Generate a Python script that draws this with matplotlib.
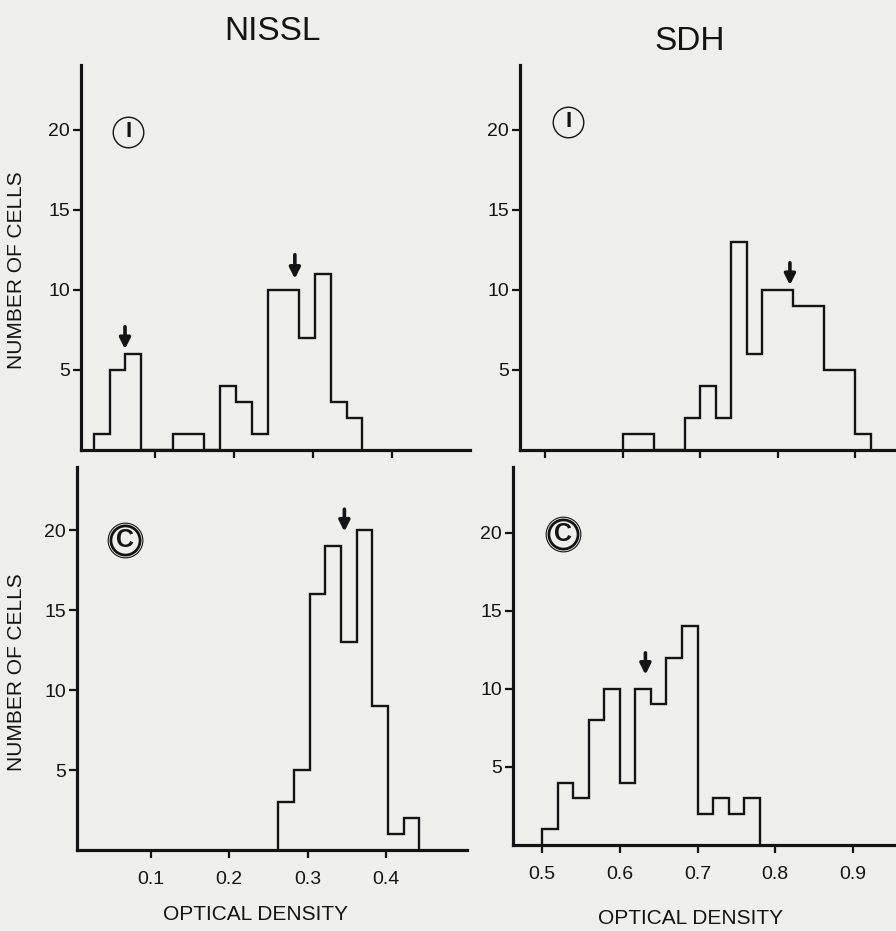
import numpy as np
import matplotlib
matplotlib.use("Agg")
import matplotlib.pyplot as plt

plt.rcParams['font.family'] = ['Liberation Sans', 'DejaVu Sans']

# ---------------- data ----------------
bin_width = 0.02

nissl_I_start = 0.0225
nissl_I_counts = [1, 5, 6, 0, 0, 1, 1, 0, 4, 3, 1, 10, 10, 7, 11, 3, 2]
nissl_I_arrows = [(0.062, 6.3, 7.7), (0.277, 10.7, 12.2)]

sdh_I_start = 0.60
sdh_I_counts = [1, 1, 0, 0, 2, 4, 2, 13, 6, 10, 10, 9, 9, 5, 5, 1]
sdh_I_arrows = [(0.816, 10.3, 11.7)]

nissl_C_start = 0.2625
nissl_C_counts = [3, 5, 16, 19, 13, 20, 9, 1, 2]
nissl_C_arrows = [(0.347, 19.9, 21.3)]

sdh_C_start = 0.50
sdh_C_counts = [1, 4, 3, 8, 10, 4, 10, 9, 12, 14, 2, 3, 2, 3]
sdh_C_arrows = [(0.633, 10.9, 12.3)]

nissl_ticks = [0.1, 0.2, 0.3, 0.4]
nissl_ticklabels = ['0.1', '0.2', '0.3', '0.4']
sdh_ticks = [0.5, 0.6, 0.7, 0.8, 0.9]
sdh_ticklabels = ['0.5', '0.6', '0.7', '0.8', '0.9']
y_ticks = [5, 10, 15, 20]
y_ticklabels = ['5', '10', '15', '20']

titles = ['NISSL', 'SDH']
ylabel = 'NUMBER OF CELLS'
xlabel = 'OPTICAL DENSITY'
group_I = 'I'
group_C = 'C'

# ---------------- figure ----------------
W, H = 896, 931
BG = '#efefec'
INK = '#141414'
fig = plt.figure(figsize=(W / 100, H / 100), dpi=100, facecolor=BG)


def make_ax(left, right, bottom, top):
    return fig.add_axes([left / W, 1 - bottom / H, (right - left) / W, (bottom - top) / H])


panels = [
    dict(box=(81, 470, 450, 65), xlim=(0.0063, 0.4987), ylim=(0, 24.06),
         start=nissl_I_start, counts=nissl_I_counts, arrows=nissl_I_arrows,
         ticks=nissl_ticks, tl=nissl_ticklabels, showx=False, grp=group_I, cpos=(0.121, 0.826)),
    dict(box=(520, 896, 450, 65), xlim=(0.4677, 0.9529), ylim=(0, 24.06),
         start=sdh_I_start, counts=sdh_I_counts, arrows=sdh_I_arrows,
         ticks=sdh_ticks, tl=sdh_ticklabels, showx=False, grp=group_I, cpos=(0.128, 0.852)),
    dict(box=(77, 467, 850, 467), xlim=(0.0055, 0.5036), ylim=(0, 23.94),
         start=nissl_C_start, counts=nissl_C_counts, arrows=nissl_C_arrows,
         ticks=nissl_ticks, tl=nissl_ticklabels, showx=True, grp=group_C, cpos=(0.123, 0.809)),
    dict(box=(513, 896, 845, 467), xlim=(0.4627, 0.9553), ylim=(0, 24.2),
         start=sdh_C_start, counts=sdh_C_counts, arrows=sdh_C_arrows,
         ticks=sdh_ticks, tl=sdh_ticklabels, showx=True, grp=group_C, cpos=(0.1305, 0.823)),
]

for p in panels:
    ax = make_ax(*p['box'])
    ax.set_facecolor('none')
    counts = np.array(p['counts'], dtype=float)
    edges = p['start'] + bin_width * np.arange(len(counts) + 1)
    ax.stairs(counts, edges, color=INK, lw=1.7, baseline=0)
    ax.set_xlim(*p['xlim'])
    ax.set_ylim(*p['ylim'])
    for s in ['top', 'right']:
        ax.spines[s].set_visible(False)
    for s in ['left', 'bottom']:
        ax.spines[s].set_linewidth(2.3)
        ax.spines[s].set_color(INK)
    ax.set_yticks(y_ticks)
    ax.set_yticklabels(y_ticklabels)
    ax.set_xticks(p['ticks'])
    if p['showx']:
        ax.set_xticklabels(p['tl'])
    else:
        ax.set_xticklabels([])
    ax.tick_params(axis='both', direction='out', length=6, width=1.6, color=INK,
                   labelsize=14, labelcolor=INK, pad=2)
    ax.tick_params(axis='x', pad=9)
    for x, tip, tail in p['arrows']:
        ax.annotate('', xy=(x, tip), xytext=(x, tail),
                    arrowprops=dict(arrowstyle='-|>', color=INK, lw=2.6,
                                    mutation_scale=16, shrinkA=0, shrinkB=0))
    cx, cy = p['cpos']
    if p['grp'] == group_I:
        ax.plot([cx], [cy], marker='o', ms=22, mfc='none', mec=INK, mew=1.0,
                transform=ax.transAxes, clip_on=False)
        ax.text(cx, cy, p['grp'], transform=ax.transAxes, ha='center', va='center',
                fontsize=16, fontweight='bold', color=INK)
    else:
        ax.plot([cx], [cy], marker='o', ms=25, mfc='none', mec=INK, mew=0.8,
                transform=ax.transAxes, clip_on=False)
        ax.plot([cx], [cy], marker='o', ms=21, mfc='none', mec=INK, mew=2.0,
                transform=ax.transAxes, clip_on=False)
        ax.text(cx, cy, p['grp'], transform=ax.transAxes, ha='center', va='center',
                fontsize=18, fontweight='bold', color=INK)

# titles
fig.text(272 / W, 1 - 32 / H, titles[0], ha='center', va='center', fontsize=24, color=INK)
fig.text(690 / W, 1 - 42 / H, titles[1], ha='center', va='center', fontsize=24, color=INK)

# y labels
fig.text(17 / W, 1 - 270 / H, ylabel, rotation=90, ha='center', va='center', fontsize=15, color=INK)
fig.text(17 / W, 1 - 672 / H, ylabel, rotation=90, ha='center', va='center', fontsize=15, color=INK)

# x labels
fig.text(255 / W, 1 - 915 / H, xlabel, ha='center', va='center', fontsize=15, color=INK)
fig.text(690 / W, 1 - 918 / H, xlabel, ha='center', va='center', fontsize=15, color=INK)

fig.savefig('out.png', dpi=100, facecolor=BG)
